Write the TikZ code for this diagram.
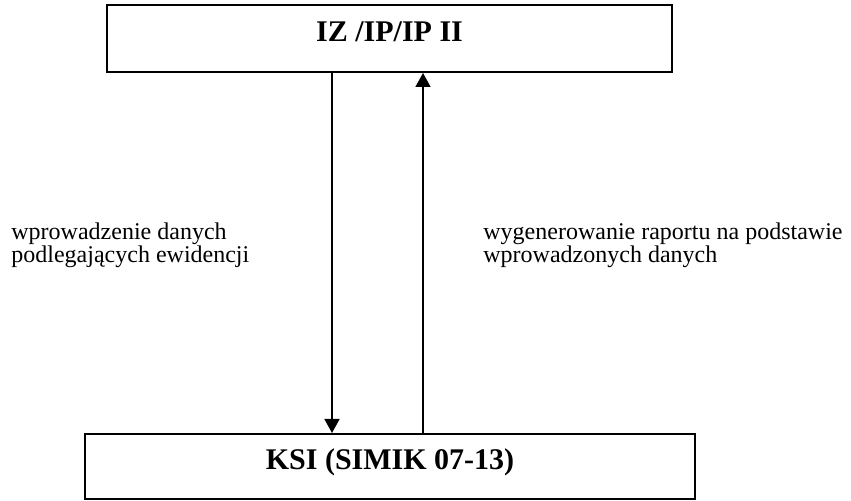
\documentclass[tikz,border=0pt]{standalone}
\usepackage{fontspec}
\setmainfont{Liberation Serif}
\usepackage{tikz}
\usetikzlibrary{arrows.meta,positioning}
\tikzset{
  unitbox/.style={rectangle, draw=black, line width=1pt, fill=white,
    align=center, font=\fontsize{15}{18}\selectfont\bfseries,
    text height=10pt, text depth=7pt, inner sep=0pt},
  flowarrow/.style={-{Triangle[length=7pt,width=7.5pt]}, draw=black,
    line width=0.75pt},
  flowlab/.style={anchor=north west, align=left, inner sep=0pt,
    font=\fontsize{12}{11.5}\selectfont},
}
\begin{document}
\begin{tikzpicture}[x=0.5pt, y=-0.5pt]

  \useasboundingbox (0,0) rectangle (851,501);

  % ============ Boxes ============
  \node[unitbox, minimum width=565*0.5pt, minimum height=67*0.5pt]
    (iz)  at (389.5, 38.5) {IZ /IP/IP II};
  \node[unitbox, minimum width=610*0.5pt, minimum height=65*0.5pt]
    (ksi) at (390, 466.5) {KSI (SIMIK 07-13)};

  % ============ Arrows ============
  \coordinate (downx) at (332, 0);
  \coordinate (upx)   at (423, 0);
  \draw[flowarrow] (iz.south -| downx) -- (ksi.north -| downx);
  \draw[flowarrow] (ksi.north -| upx) -- (iz.south -| upx);

  % ============ Labels ============
  \node[flowlab] (inlab)  at (11, 222)
    {wprowadzenie danych\\podlegających ewidencji};
  \node[flowlab] (outlab) at (483, 222)
    {wygenerowanie raportu na podstawie\\wprowadzonych danych};

\end{tikzpicture}
\end{document}
